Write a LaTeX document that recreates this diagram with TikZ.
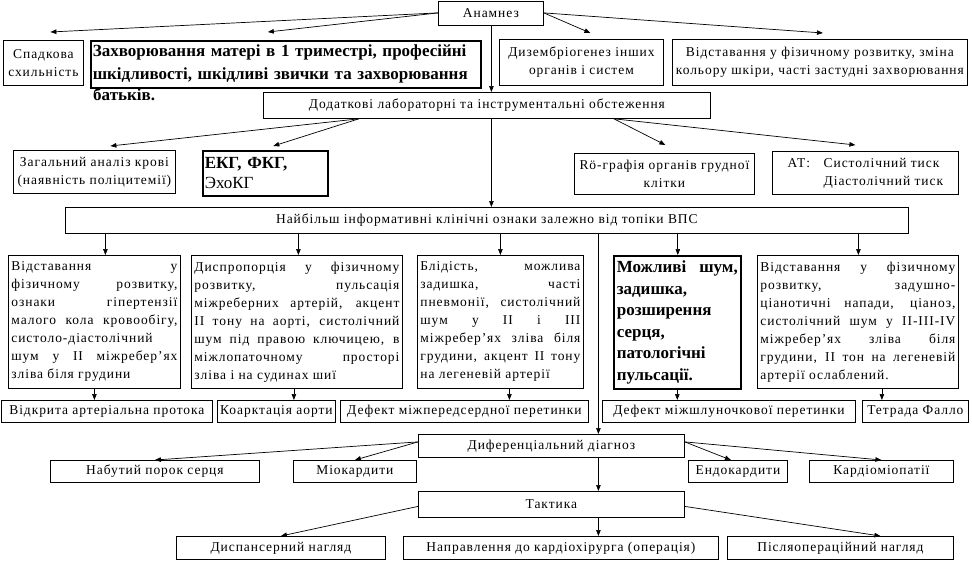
\documentclass[tikz,border=0pt]{standalone}
\usepackage{fontspec}
\setmainfont{Liberation Serif}
\newfontfamily\spacedfont{Liberation Serif}[LetterSpace=7]
\usetikzlibrary{arrows.meta}

\begin{document}
\begin{tikzpicture}
  [
    x=1pt, y=-1pt,
    block/.style={draw, rectangle, anchor=north west, inner sep=2pt, line width=0.8pt,
      align=center, font=\spacedfont\fontsize{13.5}{18}\selectfont},
    boldblock/.style={block, line width=1.6pt, align=left,
      font=\bfseries\fontsize{17}{23}\selectfont},
    signs/.style={block, align=justify, inner sep=3pt,
      execute at begin node={\tolerance=10000\hbadness=10000\hyphenpenalty=10000\exhyphenpenalty=10000}},
    arr/.style={-{Triangle[length=6pt, width=4.5pt]}, line width=0.7pt}
  ]
    \useasboundingbox (0,0) rectangle (972,560);
    % =========================================================================
    % NODES
    % =========================================================================
    \node [block, minimum width=105, minimum height=24] (anam) at (438,0.5) {Анамнез};

    \node [block, minimum width=80, minimum height=45] (heredity) at (3,40) {Спадкова\\схильність};
    \node [boldblock, text width=386, minimum height=47] (mother) at (90,40)
      {Захворювання матері в 1 триместрі, професійні\\шкідливості, шкідливі звички та захворювання};
    \node [anchor=north west, inner sep=2pt, font=\bfseries\fontsize{17}{23}\selectfont] (mothertail) at (91,86) {батьків.};
    \node [block, minimum width=164, minimum height=46] (dysemb) at (499,39) {Дизембріогенез інших\\органів і систем};
    \node [block, minimum width=295, minimum height=46] (lag) at (672,39)
      {Відставання у фізичному розвитку, зміна\\кольору шкіри, часті застудні захворювання};

    \node [block, minimum width=447, minimum height=26] (extra) at (263,92) {Додаткові лабораторні та інструментальні обстеження};

    \node [block, minimum width=162, minimum height=43] (blood) at (13,150) {Загальний аналіз крові\\(наявність поліцитемії)};
    \node [boldblock, text width=121, minimum height=45, font=\bfseries\fontsize{17}{20}\selectfont] (ecg) at (202,150)
      {ЕКГ, ФКГ,\\{\mdseries ЭхоКГ}};
    \node [block, minimum width=180, minimum height=41] (xray) at (574,153) {Rö-графія органів грудної\\клітки};
    \node [block, minimum width=186, minimum height=43, align=left] (bp) at (772,151)
      {АТ:\quad Систолічний тиск\\\phantom{АТ:\quad}Діастолічний тиск};

    \node [block, minimum width=843, minimum height=26] (clin) at (65,207) {Найбільш інформативні клінічні ознаки залежно від топіки ВПС};

    \node [signs, text width=166, minimum height=133] (sign1) at (8,255)
      {Відставання у\linebreak фізичному розвитку,\linebreak ознаки гіпертензії\linebreak малого кола кровообігу,\linebreak
       систоло-діастолічний\\ шум у II міжребер’ях\linebreak зліва біля грудини};
    \node [signs, text width=205, minimum height=133] (sign2) at (191,255)
      {Диспропорція у фізичному\linebreak розвитку, пульсація\linebreak міжреберних артерій, акцент\linebreak
       II тону на аорті, систолічний\linebreak шум під правою ключицею, в\linebreak міжлопаточному просторі\linebreak зліва і на судинах шиї};
    \node [signs, text width=160, minimum height=133] (sign3) at (417,255)
      {Блідість, можлива\linebreak задишка, часті\linebreak пневмонії, систолічний\linebreak шум у II і III\linebreak
       міжребер’ях зліва біля\linebreak грудини, акцент II тону\linebreak на легеневій артерії};
    \node [signs, text width=121, minimum height=133, line width=1.6pt, font=\bfseries\fontsize{17}{21.5}\selectfont] (sign4) at (613,255)
      {Можливі шум,\linebreak задишка,\\ розширення\\ серця,\\ патологічні\\ пульсації.};
    \node [signs, text width=195, minimum height=133] (sign5) at (757,255)
      {Відставання у фізичному\linebreak розвитку, задушно-\linebreak ціанотичні напади, ціаноз,\linebreak
       систолічний шум у II-III-IV\linebreak міжребер’ях зліва біля\linebreak грудини, II тон на легеневій\linebreak артерії ослаблений.};

    \node [block, minimum width=211, minimum height=22] (pda) at (1,400) {Відкрита артеріальна протока};
    \node [block, minimum width=118, minimum height=22] (coarc) at (217,400) {Коарктація аорти};
    \node [block, minimum width=248, minimum height=22] (asd) at (340,400) {Дефект міжпередсердної перетинки};
    \node [block, minimum width=253, minimum height=22] (vsd) at (602,400) {Дефект міжшлуночкової перетинки};
    \node [block, minimum width=106, minimum height=22] (tof) at (862,400) {Тетрада Фалло};

    \node [block, minimum width=266, minimum height=23] (diff) at (418,434) {Диференціальний діагноз};
    \node [block, minimum width=209, minimum height=22] (acquired) at (50,460) {Набутий порок серця};
    \node [block, minimum width=123, minimum height=22] (myocard) at (293,460) {Міокардити};
    \node [block, minimum width=99, minimum height=22] (endocard) at (688,460) {Ендокардити};
    \node [block, minimum width=144, minimum height=22] (cardiomyo) at (809,460) {Кардіоміопатії};

    \node [block, minimum width=266, minimum height=26] (tactic) at (418,491) {Тактика};
    \node [block, minimum width=209, minimum height=23] (dispens) at (176,536) {Диспансерний нагляд};
    \node [block, minimum width=315, minimum height=23] (surgeon) at (403,536) {Направлення до кардіохірурга (операція)};
    \node [block, minimum width=226, minimum height=23] (postop) at (727,536) {Післяопераційний нагляд};

    % =========================================================================
    % PATHS
    % =========================================================================
    % --- ANAMNESIS ---
    \draw [arr] (anam.west) -- ([xshift=7pt, yshift=8pt]heredity.north);
    \draw [arr] (anam.west) -- ([xshift=-18pt, yshift=8pt]mother.north);
    \draw [arr] (anam.east) -- ([xshift=9pt, yshift=6pt]dysemb.north);
    \draw [arr] (anam.east) -- ([xshift=3pt, yshift=6pt]lag.north);
    \draw [arr] ([xshift=0.5pt]anam.south) -- ([xshift=0.5pt]anam.south |- extra.north);
    % --- EXAMINATIONS ---
    \draw [arr] ([xshift=-128pt]extra.south) -- ([xshift=16pt, yshift=4pt]blood.north);
    \draw [arr] ([xshift=-128pt]extra.south) -- ([xshift=8pt, yshift=4pt]ecg.north);
    \draw [arr] ([xshift=127pt]extra.south) -- ([xshift=1pt, yshift=8pt]xray.north);
    \draw [arr] ([xshift=127pt]extra.south) -- ([xshift=-10pt, yshift=6pt]bp.north);
    \draw [arr] ([xshift=4.5pt]extra.south) -- ([xshift=4.5pt]extra.south |- clin.north);
    % --- SIGNS ---
    \draw [arr] ([xshift=11pt]sign1.north |- clin.south) -- ([xshift=11pt]sign1.north);
    \draw [arr] ([xshift=1.5pt]sign2.north |- clin.south) -- ([xshift=1.5pt]sign2.north);
    \draw [arr] (sign3.north |- clin.south) -- (sign3.north);
    \draw [arr] ([xshift=0.5pt]sign4.north |- clin.south) -- ([xshift=0.5pt]sign4.north);
    \draw [arr] ([xshift=0.5pt]sign5.north |- clin.south) -- ([xshift=0.5pt]sign5.north);
    \draw [arr] (sign1.south) -- (sign1.south |- pda.north);
    \draw [arr] ([xshift=-3pt]sign2.south) -- ([xshift=-3pt]sign2.south |- coarc.north);
    \draw [arr] ([xshift=9pt]sign3.south) -- ([xshift=9pt]sign3.south |- asd.north);
    \draw [arr] (sign4.south) -- (sign4.south |- vsd.north);
    \draw [arr] ([xshift=24pt]sign5.south) -- ([xshift=24pt]sign5.south |- tof.north);
    % --- DIAGNOSIS ---
    \draw [arr] ([xshift=47pt]diff.north |- clin.south) -- ([xshift=47pt]diff.north);
    \draw [arr] ([yshift=4pt]diff.west) -- (acquired.north);
    \draw [arr] ([yshift=4pt]diff.west) -- (myocard.north);
    \draw [arr] ([yshift=4pt]diff.east) -- ([xshift=-7pt]endocard.north);
    \draw [arr] ([yshift=4pt]diff.east) -- (cardiomyo.north);
    \draw [arr] ([xshift=47pt]diff.south) -- ([xshift=47pt]tactic.north);
    % --- TACTICS ---
    \draw [arr] ([yshift=-2pt]tactic.west) -- (dispens.north);
    \draw [arr] ([xshift=47pt]tactic.south) -- ([xshift=47pt]tactic.south |- surgeon.north);
    \draw [arr] ([yshift=-2pt]tactic.east) -- ([xshift=40pt]postop.north);

  \end{tikzpicture}
\end{document}
